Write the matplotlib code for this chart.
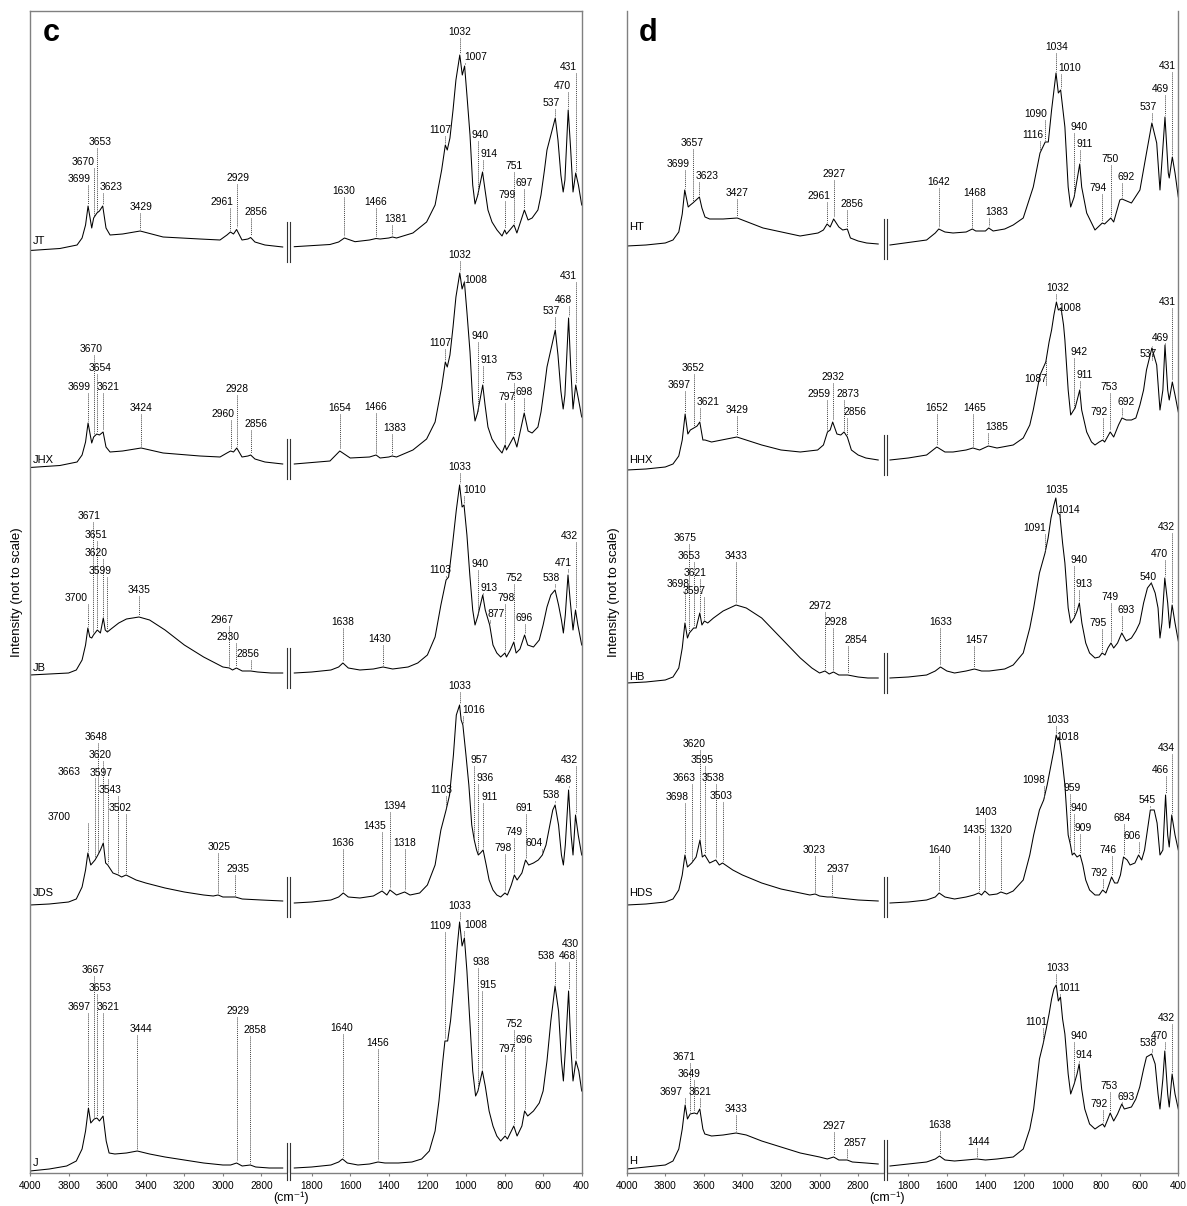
import numpy as np
import matplotlib.pyplot as plt
from matplotlib.transforms import offset_copy

plt.rcParams['font.family'] = ['Liberation Sans', 'DejaVu Sans']
plt.rcParams['mathtext.default'] = 'regular'

# wavenumber window (cm-1) cut out of the x axis
CUT_HI, CUT_LO = 2660, 1920

# ---------------- panel c ----------------
JT_WN = [4000, 3845, 3756, 3730, 3712, 3699, 3680, 3670, 3653, 3640, 3623, 3606, 3585, 3520, 3429, 3310, 3119, 3015,
         2979, 2961, 2945, 2929, 2901, 2870, 2856, 2834, 2782, 2690,
         1890, 1705, 1660, 1630, 1575, 1500, 1466, 1445, 1400, 1381, 1360, 1275, 1204, 1160, 1126, 1107, 1097, 1083,
         1067, 1052, 1032, 1019, 1007, 995, 979, 965, 953, 940, 914, 901, 886, 865, 839, 813, 799, 790, 751, 736, 697,
         678, 657, 627, 611, 593, 580, 537, 523, 508, 496, 487, 470, 457, 445, 431, 417, 400]
JT_INT = [-0.5, 1.5, 5, 12, 25, 44, 22, 32, 37, 39, 44, 22, 15, 16, 19, 13, 11, 10, 15, 18, 16, 20.5, 10, 11, 12.5, 8, 5, 3,
          3.3, 5.5, 8, 12, 8.3, 10, 11.5, 11, 12, 13, 12, 17, 28, 45, 80, 105, 100, 112, 140, 170, 195, 175, 184, 155,
          115, 65, 46, 54, 78, 60, 40, 28, 20, 14, 20, 16, 25, 17, 40, 30, 32, 40, 55, 80, 100, 132, 110, 75, 58, 70,
          140, 100, 58, 77, 65, 45]
JT_PEAKS = [3699, 3670, 3653, 3623, 3429, 2961, 2929, 2856, 1630, 1466, 1381, 1107, 1032, 1007, 940, 914, 799, 751,
            697, 537, 470, 431]
JT_LBL_DX = [-9, -11, 3, 8, 1, -8, 1, 5, -1, 0, 3, -5, 0, 11, 3, 6, 2, 0, 0, -4, -5.5, -7]
JT_LBL_Y = [71, 88, 108, 63, 43, 48, 72, 38, 59, 48, 31, 120, 218, 193, 115, 96, 55, 84, 67, 147, 164, 183]

JHX_WN = [4000, 3845, 3756, 3730, 3712, 3699, 3680, 3670, 3654, 3640, 3621, 3606, 3585, 3520, 3424, 3310, 3119, 3015,
          2979, 2960, 2945, 2928, 2901, 2870, 2856, 2834, 2782, 2690,
          1890, 1705, 1654, 1600, 1500, 1466, 1445, 1400, 1383, 1360, 1275, 1204, 1160, 1126, 1107, 1097, 1083, 1067,
          1052, 1032, 1020, 1008, 995, 979, 965, 953, 940, 913, 901, 886, 865, 839, 813, 797, 790, 753, 736, 698, 678,
          657, 627, 611, 593, 580, 537, 523, 508, 496, 487, 468, 457, 445, 431, 417, 400]
JHX_INT = [-0.5, 1.5, 5, 12, 25, 44, 24, 30, 33, 32, 35, 20, 15, 16, 19, 14, 11, 10, 14, 16, 15, 19, 10, 11, 12, 8, 5, 3,
           3, 6, 16, 9, 10, 12, 9, 10, 11, 10, 17, 28, 45, 80, 105, 100, 112, 140, 170, 194, 178, 185, 155, 115, 65, 46,
           54, 82, 62, 40, 28, 20, 14, 22, 17, 30, 20, 54, 36, 34, 40, 55, 80, 100, 137, 112, 76, 58, 72, 149, 100, 58,
           82, 68, 50]
JHX_PEAKS = [3699, 3670, 3654, 3621, 3424, 2960, 2928, 2856, 1654, 1466, 1383, 1107, 1032, 1008, 940, 913, 797, 753,
             698, 537, 468, 431]
JHX_LBL_DX = [-9, -3, 3, 5, 0, -8, 0, 5, 0, 0, 3, -5, 0, 11, 3, 6, 2, 0, 0, -4, -5.5, -7]
JHX_LBL_Y = [80, 118, 99, 80, 59, 53, 78, 43, 59, 60, 39, 124, 212, 187, 131, 107, 70, 90, 75, 156, 167, 191]

JB_WN = [4000, 3900, 3800, 3760, 3730, 3712, 3700, 3690, 3680, 3671, 3651, 3635, 3620, 3610, 3599, 3580, 3540, 3500,
         3435, 3380, 3300, 3200, 3100, 3000, 2967, 2950, 2930, 2900, 2856, 2820, 2750, 2690,
         1890, 1800, 1700, 1660, 1638, 1610, 1550, 1480, 1430, 1380, 1300, 1250, 1200, 1160, 1130, 1103, 1090, 1070,
         1050, 1033, 1020, 1010, 995, 980, 965, 953, 940, 913, 900, 877, 860, 840, 820, 798, 790, 770, 752, 740, 720,
         696, 680, 650, 620, 600, 580, 560, 538, 520, 505, 495, 485, 471, 460, 445, 432, 420, 400]
JB_INT = [0, 1, 2, 5, 15, 30, 47, 38, 37, 40, 45, 42, 57, 45, 43, 46, 52, 56, 58, 55, 45, 30, 18, 8, 7, 5, 7, 4, 4, 3, 2, 2,
          2, 3, 5, 8, 12, 7, 5, 6, 8, 6, 8, 12, 20, 38, 70, 95, 98, 130, 165, 190, 168, 170, 140, 100, 65, 50, 58, 80, 65,
          50, 30, 22, 18, 22, 18, 25, 33, 22, 26, 40, 30, 28, 35, 50, 68, 80, 85, 70, 55, 42, 60, 100, 75, 45, 65, 50, 30]
JB_PEAKS = [3700, 3671, 3651, 3620, 3599, 3435, 2967, 2930, 2856, 1638, 1430, 1103, 1033, 1010, 940, 913, 877, 798,
            752, 696, 538, 471, 432]
JB_LBL_DX = [-12, -4, -1, -7, -7, 0, -7, -8, -3, 0, -3, -6, 0, 11, 3, 6, 6, 1, 0, 0, -4, -5, -6]
JB_LBL_Y = [77, 159, 140, 122, 104, 85, 55, 38, 21, 53, 36, 105, 208, 185, 111, 87, 61, 77, 97, 57, 97, 112, 139]

JDS_WN = [4000, 3900, 3800, 3760, 3730, 3712, 3700, 3685, 3663, 3648, 3635, 3620, 3608, 3597, 3570, 3543, 3525, 3502,
          3450, 3400, 3300, 3200, 3100, 3050, 3025, 3000, 2960, 2935, 2900, 2800, 2690,
          1890, 1800, 1700, 1660, 1636, 1610, 1550, 1480, 1435, 1410, 1394, 1360, 1318, 1290, 1240, 1200, 1160, 1130,
          1103, 1085, 1065, 1050, 1033, 1025, 1016, 1000, 985, 970, 957, 945, 936, 925, 911, 895, 880, 860, 840, 820,
          798, 785, 765, 749, 735, 710, 691, 675, 650, 625, 604, 585, 565, 550, 538, 520, 505, 495, 485, 468, 455, 445,
          432, 418, 400]
JDS_INT = [0, 1, 3, 6, 18, 35, 52, 40, 45, 50, 55, 62, 42, 40, 32, 30, 28, 30, 25, 22, 17, 13, 10, 9, 10, 8, 8, 8, 6, 5, 4,
           2, 3, 5, 8, 12, 8, 7, 9, 14, 10, 15, 10, 13, 10, 12, 20, 40, 75, 95, 110, 150, 190, 200, 185, 180, 150, 120,
           80, 65, 55, 50, 52, 55, 40, 25, 15, 10, 8, 12, 10, 20, 30, 25, 32, 45, 40, 42, 45, 50, 60, 80, 95, 100, 80,
           50, 40, 60, 115, 70, 50, 90, 70, 50]
JDS_PEAKS = [3700, 3663, 3648, 3620, 3597, 3543, 3502, 3025, 2935, 1636, 1435, 1394, 1318, 1103, 1033, 1016, 957, 936,
             911, 798, 749, 691, 604, 538, 468, 432]
JDS_LBL_DX = [-29, -26, -2, -3, -7, -8, -6, 1, 3, -1, -7, 5, 0, -5, 0, 11, 5, 7, 6, -2, 0, -2, -8, -4, -5, -6]
JDS_LBL_Y = [88, 133, 168, 150, 132, 115, 97, 58, 36, 62, 79, 99, 62, 115, 219, 195, 145, 127, 108, 57, 73, 97, 62,
             110, 125, 145]

J_WN = [4000, 3900, 3810, 3760, 3730, 3712, 3697, 3685, 3667, 3653, 3640, 3621, 3605, 3590, 3560, 3500, 3444, 3380,
        3300, 3200, 3100, 3000, 2960, 2929, 2900, 2858, 2830, 2760, 2690,
        1890, 1800, 1700, 1660, 1640, 1615, 1560, 1500, 1456, 1420, 1350, 1280, 1230, 1190, 1160, 1140, 1120, 1109,
        1095, 1080, 1060, 1045, 1033, 1020, 1008, 995, 980, 965, 950, 938, 915, 900, 880, 860, 840, 820, 797, 785,
        752, 735, 710, 696, 680, 650, 620, 600, 580, 560, 538, 520, 505, 495, 485, 468, 455, 445, 430, 415, 400]
J_INT = [0, 2, 5, 10, 22, 40, 63, 48, 52, 53, 50, 55, 30, 18, 17, 18, 20, 17, 14, 11, 8, 6, 6, 8, 5, 6, 4, 3, 3,
         3, 4, 6, 9, 12, 8, 6, 7, 9, 8, 8, 9, 12, 20, 40, 70, 110, 130, 130, 150, 190, 225, 249, 225, 233, 200, 150,
         100, 75, 80, 100, 85, 60, 45, 35, 30, 35, 32, 45, 35, 45, 60, 55, 60, 68, 80, 110, 150, 185, 160, 110, 90, 120,
         180, 120, 90, 110, 100, 80]
J_PEAKS = [3697, 3667, 3653, 3621, 3444, 2929, 2858, 1640, 1456, 1109, 1033, 1008, 938, 915, 797, 752, 696, 538,
           468, 430]
J_LBL_DX = [-9, -1, 3, 5, 4, 1, 5, -1, 0, -5, 0, 11, 3, 6, 2, 0, 0, -9, -1, -6]
J_LBL_Y = [164, 201, 183, 164, 142, 160, 141, 143, 128, 245, 265, 246, 209, 186, 122, 147, 131, 215, 215, 227]

# ---------------- panel d ----------------
HT_WN = [4000, 3900, 3800, 3760, 3730, 3712, 3699, 3681, 3670, 3657, 3640, 3623, 3610, 3594, 3570, 3500, 3427, 3293,
         3101, 3008, 2980, 2961, 2945, 2927, 2900, 2880, 2856, 2840, 2800, 2756, 2696,
         1895, 1705, 1660, 1642, 1610, 1568, 1500, 1468, 1450, 1400, 1383, 1360, 1300, 1256, 1204, 1152, 1117, 1090,
         1074, 1057, 1034, 1022, 1010, 988, 971, 958, 940, 911, 901, 875, 832, 794, 782, 750, 735, 703, 692, 643, 599,
         565, 537, 512, 495, 469, 452, 447, 431, 417, 400]
HT_INT = [0, 1, 3, 6, 14, 32, 56, 39, 41, 43, 46, 49, 38, 29, 27, 27, 28, 18, 10, 13, 16, 22, 19, 27, 19, 16, 17, 8, 5, 3,
          2,
          1, 6, 13, 17, 14, 13, 14, 17, 15, 15, 18, 15, 17, 21, 28, 59, 93, 104, 104, 136, 173, 153, 156, 119, 59, 39,
          49, 82, 59, 33, 16, 23, 22, 28, 24, 46, 47, 43, 56, 93, 123, 103, 56, 129, 73, 68, 89, 73, 49]
HT_PEAKS = [3699, 3657, 3623, 3427, 2961, 2927, 2856, 1642, 1468, 1383, 1116, 1090, 1034, 1010, 940, 911, 794, 750,
            692, 537, 469, 431]
HT_LBL_DX = [-6.5, -1, 8, 0, -8, 0, 5, 0, 2, 8, -7, -10, 1, 9, 5, 5, -4, -1, 4, -3.5, -5, -5.5]
HT_LBL_Y = [82, 103, 70, 53, 50, 72, 42, 64, 53, 34, 111, 132, 199, 178, 119, 102, 58, 87, 69, 139, 157, 180]

HHX_WN = [4000, 3900, 3800, 3760, 3730, 3712, 3697, 3683, 3670, 3652, 3635, 3621, 3605, 3594, 3560, 3429, 3300, 3200,
          3100, 3010, 2980, 2959, 2945, 2932, 2910, 2890, 2873, 2856, 2835, 2800, 2760, 2696,
          1895, 1800, 1705, 1652, 1610, 1568, 1500, 1465, 1430, 1385, 1340, 1256, 1204, 1170, 1152, 1117, 1087, 1070,
          1057, 1045, 1032, 1022, 1008, 995, 988, 971, 958, 942, 935, 911, 901, 875, 850, 832, 810, 792, 782, 753, 735,
          710, 692, 670, 643, 620, 599, 580, 565, 537, 512, 495, 480, 469, 455, 447, 431, 417, 400]
HHX_INT = [0, 1, 3, 6, 14, 30, 56, 36, 40, 42, 44, 48, 30, 30, 28, 33, 25, 20, 18, 20, 25, 38, 40, 48, 36, 35, 38, 33,
           20, 15, 12, 10,
           10, 12, 15, 23, 18, 18, 20, 22, 20, 24, 22, 25, 32, 45, 60, 95, 108, 128, 140, 155, 168, 160, 162, 145, 130,
           80, 55, 60, 62, 80, 60, 38, 28, 25, 28, 30, 28, 38, 33, 45, 52, 50, 50, 52, 65, 80, 100, 122, 105, 60, 80,
           125, 80, 70, 88, 75, 58]
HHX_PEAKS = [3697, 3652, 3621, 3429, 2959, 2932, 2873, 2856, 1652, 1465, 1385, 1087, 1032, 1008, 942, 911, 792, 753,
             692, 537, 469, 431]
HHX_LBL_DX = [-6.5, -1, 8, 0, -8, 0, 4, 8, 0, 2, 8, -10, 1, 9, 5, 5, -4, -1, 4, -3.5, -5, -5.5]
HHX_LBL_Y = [85, 102, 68, 60, 76, 93, 76, 58, 62, 62, 43, 91, 182, 162, 118, 95, 58, 83, 68, 116, 132, 168]

HB_WN = [4000, 3900, 3800, 3760, 3730, 3712, 3698, 3685, 3675, 3653, 3640, 3621, 3610, 3597, 3580, 3550, 3500, 3433,
         3380, 3300, 3200, 3100, 3040, 3000, 2972, 2950, 2928, 2900, 2854, 2800, 2750, 2696,
         1895, 1800, 1705, 1660, 1633, 1600, 1560, 1500, 1457, 1420, 1380, 1300, 1256, 1204, 1170, 1150, 1120, 1091,
         1075, 1060, 1045, 1035, 1025, 1014, 1000, 988, 971, 958, 940, 925, 913, 900, 880, 860, 832, 810, 795, 780,
         765, 749, 735, 715, 693, 670, 643, 620, 600, 580, 560, 540, 520, 505, 495, 485, 470, 455, 445, 432, 417, 400]
HB_INT = [0, 1, 3, 6, 15, 35, 60, 45, 50, 55, 55, 70, 58, 62, 60, 65, 72, 78, 75, 65, 45, 25, 15, 10, 12, 9, 11, 8, 8, 6,
          5, 5,
          5, 6, 8, 12, 16, 12, 10, 12, 14, 12, 12, 14, 18, 30, 55, 75, 110, 130, 145, 165, 178, 185, 170, 168, 140, 120,
          75, 60, 65, 72, 80, 60, 40, 30, 25, 26, 30, 28, 35, 40, 35, 40, 50, 42, 45, 52, 60, 80, 95, 100, 90, 75, 45,
          60, 105, 80, 55, 78, 60, 42]
HB_PEAKS = [3698, 3675, 3653, 3621, 3597, 3433, 2972, 2928, 2854, 1633, 1457, 1091, 1035, 1014, 940, 913, 795, 749,
            693, 540, 470, 432]
HB_LBL_DX = [-6.5, -4, -5, -5, -10, 0, -5, 3, 8, 0, 2, -10, 1, 9, 5, 5, -4, -1, 4, -3.5, -5, -5.5]
HB_LBL_Y = [99, 145, 127, 110, 92, 127, 77, 61, 43, 61, 43, 155, 193, 173, 123, 99, 60, 86, 73, 106, 129, 156]

HDS_WN = [4000, 3900, 3800, 3760, 3730, 3712, 3698, 3685, 3663, 3640, 3620, 3608, 3595, 3570, 3538, 3520, 3503, 3450,
          3400, 3300, 3200, 3100, 3050, 3023, 3000, 2960, 2937, 2900, 2800, 2696,
          1895, 1800, 1705, 1660, 1640, 1610, 1560, 1500, 1460, 1435, 1420, 1403, 1380, 1340, 1320, 1290, 1256, 1204,
          1170, 1150, 1120, 1098, 1080, 1060, 1045, 1033, 1025, 1018, 1005, 988, 971, 959, 950, 940, 925, 909, 895, 880,
          860, 832, 810, 792, 775, 760, 746, 730, 715, 700, 684, 665, 650, 625, 606, 590, 575, 560, 545, 525, 510, 495,
          480, 466, 455, 447, 434, 417, 400]
HDS_INT = [0, 1, 3, 6, 15, 30, 50, 38, 42, 48, 65, 48, 50, 42, 45, 40, 42, 35, 30, 22, 16, 12, 10, 11, 9, 8, 8, 7, 5, 4,
           2, 3, 5, 8, 12, 8, 6, 8, 10, 12, 10, 14, 10, 11, 13, 11, 14, 25, 50, 70, 95, 105, 120, 140, 155, 170, 165, 168,
           150, 120, 70, 60, 50, 52, 48, 50, 40, 25, 15, 10, 10, 15, 12, 20, 28, 22, 22, 30, 48, 45, 40, 42, 50, 45, 55,
           75, 95, 95, 82, 50, 55, 110, 70, 58, 90, 70, 55]
HDS_PEAKS = [3698, 3663, 3620, 3595, 3538, 3503, 3023, 2937, 1640, 1435, 1403, 1320, 1098, 1033, 1018, 959, 940, 909,
             792, 746, 684, 606, 545, 466, 434]
HDS_LBL_DX = [-8, -8, -6, -3, -3, -1, -1, 6, 0, -5, 1, 0, -10, 1, 9, 2, 5, 3, -4, -4, -1, -6, -3.5, -5, -5.5]
HDS_LBL_Y = [108, 127, 161, 145, 127, 109, 55, 36, 55, 75, 93, 75, 125, 185, 168, 117, 97, 77, 32, 55, 87, 69, 105,
             135, 157]

H_WN = [4000, 3900, 3800, 3760, 3730, 3712, 3697, 3685, 3671, 3649, 3635, 3621, 3605, 3595, 3560, 3500, 3433, 3380,
        3300, 3200, 3100, 3000, 2960, 2927, 2900, 2857, 2830, 2760, 2696,
        1895, 1800, 1705, 1660, 1638, 1610, 1560, 1500, 1444, 1400, 1340, 1256, 1204, 1170, 1150, 1120, 1101, 1085,
        1070, 1057, 1045, 1033, 1022, 1011, 1000, 988, 971, 958, 940, 925, 914, 901, 885, 860, 832, 810, 792, 782, 765,
        753, 735, 715, 693, 680, 643, 620, 600, 580, 565, 538, 520, 505, 495, 480, 470, 455, 447, 432, 417, 400]
H_INT = [0, 2, 4, 8, 20, 40, 64, 50, 55, 56, 55, 60, 40, 35, 33, 34, 36, 34, 28, 22, 16, 12, 10, 12, 9, 9, 7, 6, 5,
         3, 5, 7, 10, 13, 9, 8, 9, 10, 9, 10, 12, 20, 40, 60, 110, 125, 140, 155, 170, 180, 184, 168, 172, 150, 135,
         95, 75, 85, 95, 105, 80, 60, 45, 40, 43, 45, 42, 50, 56, 48, 55, 65, 60, 62, 70, 82, 100, 112, 115, 105, 75,
         60, 90, 118, 75, 62, 95, 75, 60]
H_PEAKS = [3697, 3671, 3649, 3621, 3433, 2927, 2857, 1638, 1444, 1101, 1033, 1011, 940, 914, 792, 753, 693, 538,
           470, 432]
H_LBL_DX = [-14, -6, -5, 0, 0, 0, 8, 0, 2, -7, 1, 9, 5, 5, -4, -1, 4, -3.5, -5, -5.5]
H_LBL_Y = [77, 112, 95, 77, 60, 43, 26, 44, 27, 147, 201, 181, 133, 114, 65, 83, 72, 126, 133, 151]

# sample names, vertical stacking offsets and name heights (same units as intensity)
C_NAMES = ['JT', 'JHX', 'JB', 'JDS', 'J']
C_OFFSETS = [923, 706, 498, 268, 2]
C_NAME_Y = [9, 7, 7, 12, 8]
D_NAMES = ['HT', 'HHX', 'HB', 'HDS', 'H']
D_OFFSETS = [927, 703, 490, 268, 4]
D_NAME_Y = [19, 10, 6, 12, 8]

TICKS = [4000, 3800, 3600, 3400, 3200, 3000, 2800, 1800, 1600, 1400, 1200, 1000, 800, 600, 400]


def axis_x(wn):
    # collapse the cut window so both spectral ranges share one axis
    wn = np.asarray(wn, dtype=float)
    return np.where(wn <= CUT_LO, wn + (CUT_HI - CUT_LO), wn)


def draw_spectrum(fig, ax, wn, inten, offset, peaks, lbl_dx, lbl_y, name, name_y):
    wn = np.asarray(wn, dtype=float)
    inten = np.asarray(inten, dtype=float)
    hi = wn > CUT_HI
    for m in (hi, ~hi):
        ax.plot(axis_x(wn[m]), offset + inten[m], color='black', lw=0.75, solid_joinstyle='round')

    # broken-axis marks between the two ranges
    mid = offset + (inten[hi][-1] + inten[~hi][0]) / 2 + 5
    for xb in (2667.5, 2652):
        ax.plot([xb, xb], [mid - 20, mid + 20], color='#333333', lw=0.8)

    order = np.argsort(wn)
    for p, dx, ly in zip(peaks, lbl_dx, lbl_y):
        cy = np.interp(p, wn[order], inten[order])
        xp = axis_x(p)
        ax.plot([xp, xp], [offset + ly - 6, offset + cy + 2], color='#444444', lw=0.7,
                linestyle=(0, (1, 1)))
        tr = offset_copy(ax.transData, fig=fig, x=dx, y=0, units='dots')
        ax.text(xp, offset + ly, str(p), transform=tr, ha='center', va='center', fontsize=7.4)

    ax.text(0.005, offset + name_y, name, transform=ax.get_yaxis_transform(), ha='left',
            va='center', fontsize=8)


def setup_panel(ax, letter, top_frame):
    ax.set_xlim(4000, 400 + CUT_HI - CUT_LO)
    ax.set_ylim(0, 1162)
    ax.set_yticks([])
    ax.set_xticks(axis_x(TICKS))
    ax.set_xticklabels([str(t) for t in TICKS], fontsize=7.3)
    ax.tick_params(axis='x', direction='out', length=2.5, width=0.8, color='#808080', pad=3)
    for s in ('left', 'right', 'top'):
        ax.spines[s].set_color('#808080')
        ax.spines[s].set_linewidth(1.0)
    ax.spines['top'].set_visible(top_frame)
    ax.spines['bottom'].set_visible(False)

    # bottom axis line with a break
    for x0, x1 in ((4000, 2673), (2647, 400 + CUT_HI - CUT_LO)):
        ax.plot([x0, x1], [0, 0], color='#808080', lw=1.0, clip_on=False)
    for xb in (2667.5, 2652):
        ax.plot([xb, xb], [-7, 13], color='#333333', lw=0.8, clip_on=False)

    ax.set_ylabel('Intensity (not to scale)', fontsize=9.5)
    ax.yaxis.set_label_coords(-0.012, 0.5)
    ax.text(2648, -24.5, '(cm\u207b\u00b9)', ha='center', va='center', fontsize=9)
    ax.text(0.039, 0.981, letter, transform=ax.transAxes, ha='center', va='center',
            fontsize=22, fontweight='bold')


fig = plt.figure(figsize=(11.87, 12.06), dpi=100)
W, H = 1187, 1206
ax_c = fig.add_axes([30 / W, 1 - 1173 / H, 551.7 / W, 1162 / H])
ax_d = fig.add_axes([626.7 / W, 1 - 1173 / H, 551.6 / W, 1162 / H])

setup_panel(ax_c, 'c', True)
setup_panel(ax_d, 'd', False)

c_data = [(JT_WN, JT_INT, JT_PEAKS, JT_LBL_DX, JT_LBL_Y),
          (JHX_WN, JHX_INT, JHX_PEAKS, JHX_LBL_DX, JHX_LBL_Y),
          (JB_WN, JB_INT, JB_PEAKS, JB_LBL_DX, JB_LBL_Y),
          (JDS_WN, JDS_INT, JDS_PEAKS, JDS_LBL_DX, JDS_LBL_Y),
          (J_WN, J_INT, J_PEAKS, J_LBL_DX, J_LBL_Y)]
d_data = [(HT_WN, HT_INT, HT_PEAKS, HT_LBL_DX, HT_LBL_Y),
          (HHX_WN, HHX_INT, HHX_PEAKS, HHX_LBL_DX, HHX_LBL_Y),
          (HB_WN, HB_INT, HB_PEAKS, HB_LBL_DX, HB_LBL_Y),
          (HDS_WN, HDS_INT, HDS_PEAKS, HDS_LBL_DX, HDS_LBL_Y),
          (H_WN, H_INT, H_PEAKS, H_LBL_DX, H_LBL_Y)]

for ax, data, names, offs, name_y in ((ax_c, c_data, C_NAMES, C_OFFSETS, C_NAME_Y),
                                      (ax_d, d_data, D_NAMES, D_OFFSETS, D_NAME_Y)):
    for (wn, inten, peaks, dx, ly), nm, off, ny in zip(data, names, offs, name_y):
        draw_spectrum(fig, ax, wn, inten, off, peaks, dx, ly, nm, ny)

fig.savefig('out.png', dpi=100)
